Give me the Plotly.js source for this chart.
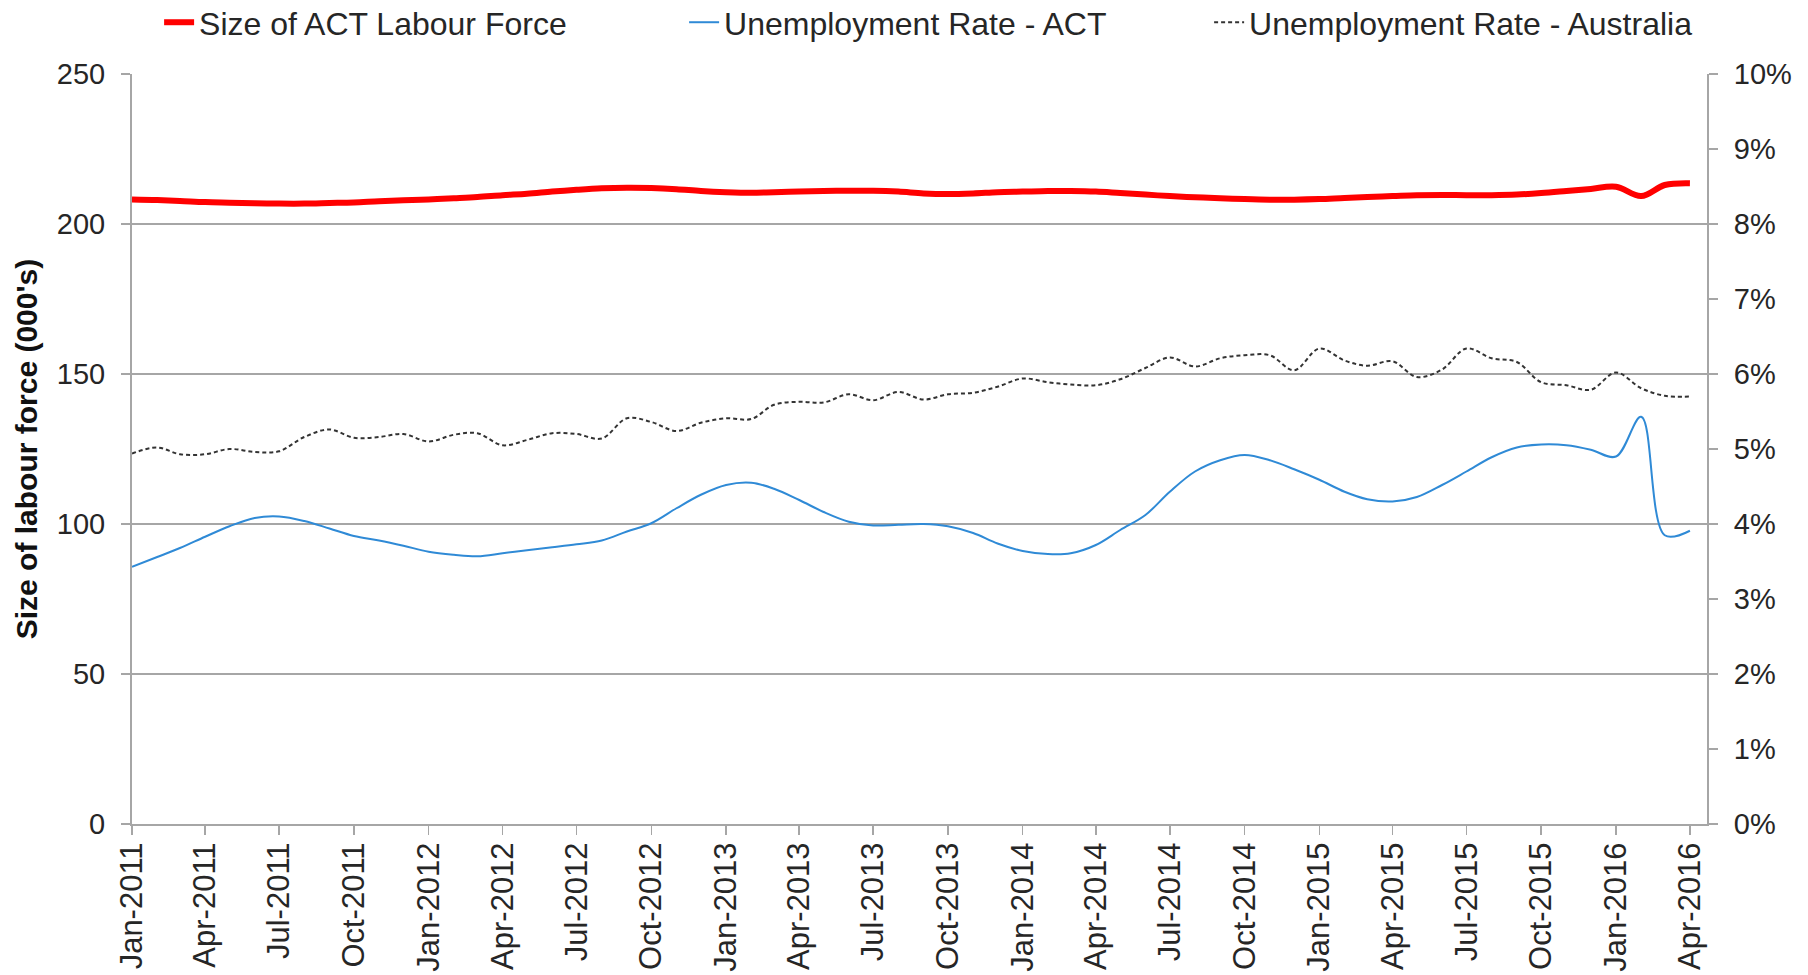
<!DOCTYPE html>
<html>
<head>
<meta charset="utf-8">
<script src="https://cdn.plot.ly/plotly-3.0.1.min.js"></script>
<style>
  html, body { margin: 0; padding: 0; background: #fff; }
  #chart { width: 1808px; height: 975px; }
</style>
</head>
<body>
<div id="chart"></div>
<script>
// Months (Jan-2011 .. Apr-2016)
const months = [
  "2011-01-01","2011-02-01","2011-03-01","2011-04-01","2011-05-01","2011-06-01",
  "2011-07-01","2011-08-01","2011-09-01","2011-10-01","2011-11-01","2011-12-01",
  "2012-01-01","2012-02-01","2012-03-01","2012-04-01","2012-05-01","2012-06-01",
  "2012-07-01","2012-08-01","2012-09-01","2012-10-01","2012-11-01","2012-12-01",
  "2013-01-01","2013-02-01","2013-03-01","2013-04-01","2013-05-01","2013-06-01",
  "2013-07-01","2013-08-01","2013-09-01","2013-10-01","2013-11-01","2013-12-01",
  "2014-01-01","2014-02-01","2014-03-01","2014-04-01","2014-05-01","2014-06-01",
  "2014-07-01","2014-08-01","2014-09-01","2014-10-01","2014-11-01","2014-12-01",
  "2015-01-01","2015-02-01","2015-03-01","2015-04-01","2015-05-01","2015-06-01",
  "2015-07-01","2015-08-01","2015-09-01","2015-10-01","2015-11-01","2015-12-01",
  "2016-01-01","2016-02-01","2016-03-01","2016-04-01"
];

// Size of ACT labour force (000's)
const labourForce = [
  208.2, 208.0, 207.7, 207.3, 207.1, 206.9, 206.8, 206.8, 207.0, 207.2, 207.6, 207.9,
  208.2, 208.6, 209.0, 209.6, 210.1, 210.8, 211.4, 211.9, 212.1, 212.0, 211.6, 211.0,
  210.6, 210.4, 210.6, 210.8, 211.0, 211.1, 211.1, 210.8, 210.2, 210.0, 210.2, 210.6,
  210.8, 211.0, 211.0, 210.8, 210.3, 209.8, 209.3, 208.9, 208.6, 208.3, 208.1, 208.1,
  208.3, 208.7, 209.0, 209.3, 209.6, 209.7, 209.6, 209.6, 209.8, 210.3, 211.0, 211.7,
  212.4, 209.3, 213.0, 213.6
];

// Unemployment rate - ACT (%)
const rateACT = [
  3.43, 3.56, 3.68, 3.83, 3.97, 4.08, 4.10, 4.04, 3.94, 3.84, 3.78, 3.71,
  3.63, 3.59, 3.57, 3.61, 3.65, 3.69, 3.73, 3.78, 3.90, 4.01, 4.21, 4.39,
  4.52, 4.55, 4.47, 4.32, 4.16, 4.03, 3.98, 3.99, 4.00, 3.97, 3.88, 3.74,
  3.64, 3.60, 3.61, 3.72, 3.92, 4.12, 4.43, 4.70, 4.85, 4.92, 4.85, 4.73,
  4.59, 4.43, 4.33, 4.30, 4.36, 4.52, 4.70, 4.89, 5.02, 5.06, 5.05, 4.99,
  4.90, 5.43, 3.85, 3.91
];

// Unemployment rate - Australia (%)
const rateAus = [
  4.94, 5.02, 4.93, 4.93, 5.00, 4.96, 4.97, 5.16, 5.26, 5.15, 5.16, 5.20,
  5.10, 5.19, 5.21, 5.05, 5.12, 5.21, 5.20, 5.14, 5.41, 5.36, 5.24, 5.35,
  5.41, 5.40, 5.59, 5.63, 5.62, 5.73, 5.65, 5.76, 5.66, 5.73, 5.75, 5.83,
  5.94, 5.89, 5.86, 5.85, 5.93, 6.08, 6.22, 6.10, 6.21, 6.25, 6.25, 6.05,
  6.34, 6.18, 6.11, 6.17, 5.96, 6.06, 6.34, 6.21, 6.16, 5.89, 5.85, 5.79,
  6.02, 5.81, 5.71, 5.70
];

const seriesNames = ["Size of ACT Labour Force", "Unemployment Rate - ACT", "Unemployment Rate - Australia"];
const yTitle = "Size of labour force (000's)";

const FONT = "Liberation Sans, Arial, sans-serif";
const TXT = "#262626";
const GRID = "#a6a6a6";

const traces = [
  {
    x: months, y: labourForce, name: seriesNames[0], type: "scatter", mode: "lines",
    yaxis: "y", line: { color: "#ff0000", width: 6, shape: "spline", smoothing: 1 }
  },
  {
    x: months, y: rateACT, name: seriesNames[1], type: "scatter", mode: "lines",
    yaxis: "y2", line: { color: "#2f8ad6", width: 2, shape: "spline", smoothing: 1 }
  },
  {
    x: months, y: rateAus, name: seriesNames[2], type: "scatter", mode: "lines",
    yaxis: "y2", line: { color: "#333333", width: 2, dash: "4px,3px", shape: "spline", smoothing: 1 }
  }
];

const layout = {
  width: 1808, height: 975,
  paper_bgcolor: "#fff", plot_bgcolor: "#fff",
  margin: { l: 132, r: 101, t: 74, b: 151 },
  font: { family: FONT, color: TXT, size: 29 },
  showlegend: true,
  legend: {
    orientation: "h",
    xref: "container", yref: "container",
    x: 0.088, xanchor: "left",
    y: 0.977, yanchor: "middle",
    font: { family: FONT, size: 32, color: TXT },
    entrywidth: 480, entrywidthmode: "pixels",
    bgcolor: "rgba(0,0,0,0)", borderwidth: 0,
    traceorder: "normal"
  },
  xaxis: {
    type: "date",
    range: ["2011-01-01", "2016-04-22"],
    tick0: "2011-01-01", dtick: "M3",
    tickformat: "%b-%Y",
    tickangle: -90,
    tickfont: { family: FONT, size: 31, color: TXT },
    ticks: "outside", ticklen: 9, tickwidth: 1.5, tickcolor: GRID,
    ticklabelstandoff: -5,
    showline: true, linecolor: GRID, linewidth: 2,
    showgrid: false, zeroline: false,
    fixedrange: true
  },
  yaxis: {
    range: [0, 250], dtick: 50, tick0: 0,
    tickfont: { family: FONT, size: 29, color: TXT },
    ticks: "outside", ticklen: 9, tickwidth: 1.5, tickcolor: GRID,
    ticklabelstandoff: 10,
    showline: true, linecolor: GRID, linewidth: 2,
    showgrid: true, gridcolor: GRID, gridwidth: 1.5,
    zeroline: false,
    title: { text: "<b>" + yTitle + "</b>", font: { family: FONT, size: 30, color: "#111" }, standoff: 10 },
    automargin: false
  },
  yaxis2: {
    overlaying: "y", side: "right",
    range: [0, 10], dtick: 1, tick0: 0,
    ticksuffix: "%",
    tickfont: { family: FONT, size: 29, color: TXT },
    ticks: "outside", ticklen: 9, tickwidth: 1.5, tickcolor: GRID,
    ticklabelstandoff: 10,
    showline: true, linecolor: GRID, linewidth: 2,
    showgrid: false, zeroline: false,
    automargin: false
  }
};

Plotly.newPlot("chart", traces, layout, { displayModeBar: false, staticPlot: true });
</script>
</body>
</html>
